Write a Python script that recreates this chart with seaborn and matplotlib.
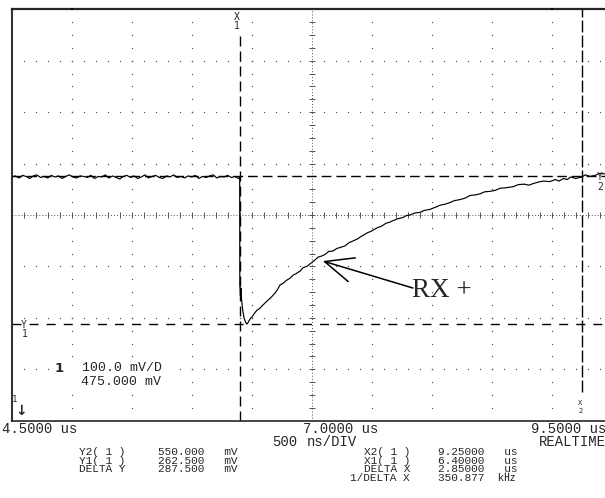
import numpy as np
import pandas as pd
import matplotlib
matplotlib.use("Agg")
import matplotlib.pyplot as plt
from matplotlib.patches import ArrowStyle
import seaborn as sns

# ---------------- data ----------------
x_start_us = 4.5
x_end_us = 9.5
time_per_div_ns = 500
mv_per_div = 100.0
offset_mv = 475.0
n_ydiv = 8

baseline_step_us = 0.03
baseline_mv = [549, 551, 547, 552, 550, 546, 551, 553, 548, 550, 547, 552, 549, 551,
               546, 550, 553, 549, 547, 551, 550, 548, 552, 546, 550, 549, 553, 547,
               551, 548, 545, 550, 552, 548, 551, 546, 549, 553, 547, 550, 552, 548,
               546, 551, 549, 553, 548, 550, 547, 551, 549, 552, 546, 550, 548, 551,
               553, 547, 550, 549, 552, 548, 550, 546]

recovery_t_us = [6.400, 6.401, 6.406, 6.410, 6.415, 6.425, 6.437, 6.450, 6.461, 6.475,
                 6.490, 6.503, 6.520, 6.544, 6.560, 6.594, 6.620, 6.653, 6.670, 6.694,
                 6.715, 6.736, 6.760, 6.790, 6.819, 6.845, 6.870, 6.903, 6.930, 6.960,
                 6.986, 7.020, 7.053, 7.080, 7.110, 7.140, 7.178, 7.210, 7.240, 7.278,
                 7.310, 7.340, 7.378, 7.410, 7.440, 7.461, 7.500, 7.544, 7.580, 7.620,
                 7.650, 7.678, 7.720, 7.760, 7.790, 7.819, 7.860, 7.900, 7.940, 7.986,
                 8.030, 8.070, 8.111, 8.150, 8.190, 8.236, 8.280, 8.320, 8.361, 8.400,
                 8.440, 8.486, 8.530, 8.570, 8.620, 8.678, 8.720, 8.770, 8.810, 8.844,
                 8.890, 8.930, 8.986, 9.030, 9.060, 9.100, 9.128, 9.160, 9.200, 9.253,
                 9.280, 9.320, 9.361, 9.400, 9.444, 9.500]
recovery_mv = [548, 338, 318, 333, 312, 290, 274, 266, 263, 268,
               274, 277, 283, 290, 292, 300, 306, 313, 317, 323,
               330, 339, 342, 348, 352, 358, 361, 366, 373, 375,
               380, 386, 393, 395, 398, 404, 405, 410, 412, 415,
               421, 424, 428, 433, 437, 440, 444, 450, 453, 459,
               461, 464, 468, 470, 474, 475, 479, 480, 484, 486,
               490, 494, 496, 499, 503, 505, 508, 513, 514, 516,
               520, 521, 523, 527, 528, 530, 534, 535, 533, 536,
               539, 541, 540, 544, 541, 546, 544, 549, 546, 549,
               553, 550, 552, 556, 555, 553]

cursor_x1_us = 6.40
cursor_x2_us = 9.25
cursor_y1_mv = 262.5
cursor_y2_mv = 550.0

time_labels = ["4.5000 us", "7.0000 us", "9.5000 us"]
timebase_value = "500"
timebase_unit = "ns/DIV"
mode_label = "REALTIME"
y_readout_labels = ["Y2( 1 )", "Y1( 1 )", "DELTA Y"]
y_readout_values = ["550.000   mV", "262.500   mV", "287.500   mV"]
x_readout_labels = ["X2( 1 )", "X1( 1 )", "DELTA X", "1/DELTA X"]
x_readout_values = ["9.25000   us", "6.40000   us", "2.85000   us", "350.877  k㎐"]
channel_number = "1"
channel_lines = ["100.0 mV/D", "475.000 mV"]
annotation_text = "RX +"
annotation_tip = (7.092, 385.5)
annotation_tail = (7.844, 333.0)

# ---------------- figure ----------------
sns.set_style("white")
plt.rcParams["font.family"] = ["Liberation Mono", "Noto Sans CJK JP", "DejaVu Sans"]
plt.rcParams["lines.scale_dashes"] = False

W, H = 605, 498
fig = plt.figure(figsize=(W / 100, H / 100), dpi=100)
fig.patch.set_facecolor("white")

def fpx(x, y):
    return x / W, 1 - y / H

def label(x, base, s, fs, ha="left", family="Liberation Mono", **kw):
    fig.text(*fpx(x, base), s, fontsize=fs, ha=ha, va="baseline",
             family=[family, "Noto Sans CJK JP", "DejaVu Sans"], **kw)

ax_left, ax_top, ax_right, ax_bottom = 11.7, 9.3, 611.7, 420.7
ax = fig.add_axes([ax_left / W, 1 - ax_bottom / H, (ax_right - ax_left) / W,
                   (ax_bottom - ax_top) / H])
ymin = offset_mv - mv_per_div * n_ydiv / 2
ymax = offset_mv + mv_per_div * n_ydiv / 2
ax.set_xlim(x_start_us, x_end_us)
ax.set_ylim(ymin, ymax)
ax.set_xticks([]); ax.set_yticks([])
ax.set_facecolor("white")
ax.spines["right"].set_visible(False)
ax.spines["top"].set_linewidth(1.6)
ax.spines["bottom"].set_linewidth(1.2)
ax.spines["left"].set_linewidth(1.5)
ax.spines["left"].set_color("#333333")

div_us = time_per_div_ns / 1000.0
x_center = (x_start_us + x_end_us) / 2
gcol = "#555555"
ydots = np.arange(ymin, ymax + 1e-6, mv_per_div / 4)[1:-1]
xdots = np.arange(x_start_us, x_end_us + 1e-6, div_us / 5)[1:-1]
for xv in np.arange(x_start_us + div_us, x_end_us - 1e-6, div_us):
    if abs(xv - x_center) < 1e-6:
        continue
    ax.plot(np.full_like(ydots, xv), ydots, ls="none", marker="s", ms=0.9, mew=0,
            color=gcol, zorder=1)
for yv in np.arange(ymin + mv_per_div, ymax - 1e-6, mv_per_div):
    if abs(yv - offset_mv) < 1e-6:
        continue
    ax.plot(xdots, np.full_like(xdots, yv), ls="none", marker="s", ms=0.9, mew=0,
            color=gcol, zorder=1)
ax.axvline(x_center, ls=(0, (0.7, 1.45)), lw=0.7, color=gcol, zorder=1)
ax.axhline(offset_mv, ls=(0, (0.7, 1.45)), lw=0.7, color=gcol, zorder=1)
ax.plot(np.full_like(ydots, x_center), ydots, ls="none", marker="_", ms=4, mew=0.7,
        color=gcol, zorder=1)
ax.plot(xdots, np.full_like(xdots, offset_mv), ls="none", marker="|", ms=4, mew=0.7,
        color=gcol, zorder=1)

# cursors
ax.axhline(cursor_y2_mv, ls=(0, (7.0, 3.6)), lw=1.0, color="black", zorder=2)
ax.axhline(cursor_y1_mv, ls=(0, (6.5, 5.8)), lw=1.0, color="black", zorder=2)
ax.axvline(cursor_x1_us, ymin=0, ymax=0.948, ls=(0, (7.2, 3.6)), lw=1.0,
           color="black", zorder=2)
ax.axvline(cursor_x2_us, ymin=0.07, ymax=1, ls=(0, (8.6, 2.2)), lw=1.0,
           color="black", zorder=2)

# trace
baseline_t = [round(x_start_us + i * baseline_step_us, 3) for i in range(len(baseline_mv))]
df = pd.DataFrame({"t": baseline_t + recovery_t_us, "mv": baseline_mv + recovery_mv})
sns.lineplot(data=df, x="t", y="mv", sort=False, estimator=None, color="black",
             linewidth=0.85, ax=ax, zorder=3)
ax.set_xlabel(""); ax.set_ylabel("")

# cursor labels (stacked letter + index)
mk = dict(family="DejaVu Sans Mono", ha="center")
label(236.5, 20.5, "X", 7.0, **mk)
label(236.5, 29.3, "1", 7.0, **mk)
label(580.5, 405.3, "X", 5.0, **mk)
label(580.5, 413.0, "2", 5.0, **mk)
label(24.0, 327.5, "Y", 7.0, **mk)
label(25.0, 337.0, "1", 7.0, **mk)
label(600.0, 179.5, "Y", 7.0, **mk)
label(600.0, 189.5, "2", 7.0, **mk)

# ground marker
label(15, 402, "1", 6.5, **mk)
fig.text(*fpx(21.5, 410.5), "↓", family=["DejaVu Sans"], fontsize=10,
         fontweight="bold", ha="center", va="center")

# channel info inside graticule (white panel masks the graticule dots)
ax.axvspan(x_start_us + 0.38, x_start_us + 1.38, ymin=(175 - 28 - ymin) / (ymax - ymin),
           ymax=(175 + 12 - ymin) / (ymax - ymin), facecolor="white",
           edgecolor="none", zorder=1.5)
label(59.5, 371.5, channel_number, 9.5, ha="center", family="DejaVu Sans",
      fontweight="bold")
label(82, 371.0, channel_lines[0], 9.5)
label(81, 384.5, channel_lines[1], 9.5)

# annotation
ax.annotate("", xy=annotation_tip, xytext=annotation_tail,
            arrowprops=dict(arrowstyle=ArrowStyle("->", head_length=20.4,
                                                  head_width=8.9),
                            mutation_scale=1, lw=1.1, color="black",
                            shrinkA=0, shrinkB=0), zorder=4)
ax.text(annotation_tail[0] - 0.008, 315.5, annotation_text,
        family=["Liberation Serif"], fontsize=19.5, ha="left", va="baseline",
        zorder=4)

# top markers
for xv in [x_start_us + div_us, x_end_us - div_us]:
    ax.plot([xv], [ymax], ls="none", marker="s", ms=1.8, mew=0, color="black",
            clip_on=False, zorder=5)

# readouts below graticule
fs_big = 10
label(2, 432.5, time_labels[0], fs_big)
label(303, 432.5, time_labels[1], fs_big)
label(606, 432.5, time_labels[2], fs_big, ha="right")
label(297, 445.5, timebase_value, fs_big, ha="right")
label(307, 445.5, timebase_unit, fs_big)
label(606, 445.5, mode_label, fs_big, ha="right")

fs_small = 8
pitch_small = 8.6
base_small = 455
for i, s in enumerate(y_readout_labels):
    label(125, base_small + i * pitch_small, s, fs_small, ha="right")
    label(158, base_small + i * pitch_small, y_readout_values[i], fs_small)
for i, s in enumerate(x_readout_labels):
    label(410, base_small + i * pitch_small, s, fs_small, ha="right")
    label(438, base_small + i * pitch_small, x_readout_values[i], fs_small)

fig.savefig("out.png", dpi=100, facecolor="white")
